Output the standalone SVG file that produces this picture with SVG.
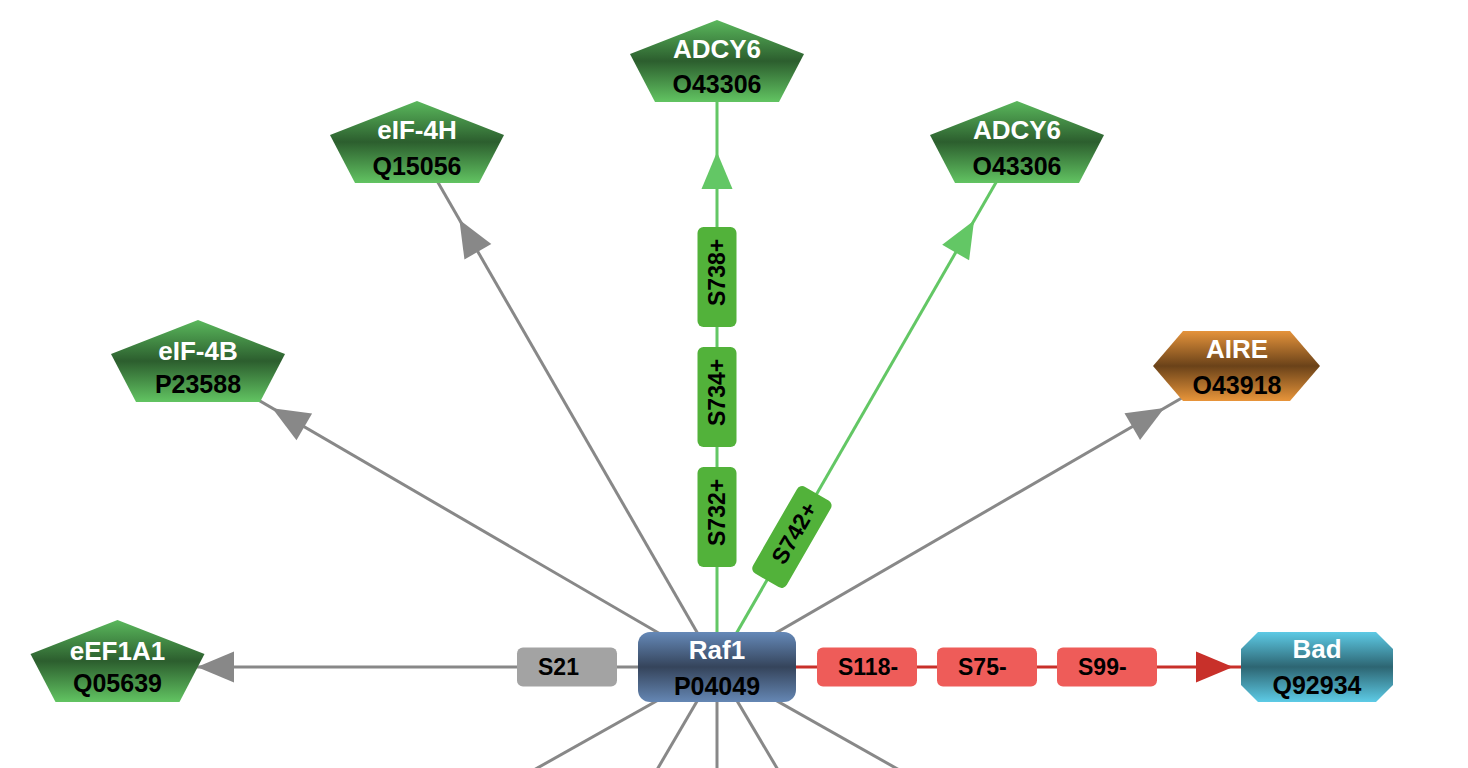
<svg xmlns="http://www.w3.org/2000/svg" xmlns:xlink="http://www.w3.org/1999/xlink" width="1468" height="768" viewBox="0 0 1468 768">
<style>
.ln{fill:none;stroke-width:3}
.gray{stroke:#888888}
.grn{stroke:#63c765}
.red{stroke:#c8302a}
.ag{fill:#888888}
.agr{fill:#63c765}
.ar{fill:#c8302a}
.nm{font-family:"Liberation Sans",Arial,sans-serif;font-weight:bold;font-size:26px;fill:#ffffff;text-anchor:middle}
.id{font-family:"Liberation Sans",Arial,sans-serif;font-weight:bold;font-size:25px;fill:#000000;text-anchor:middle}
.lt{font-family:"Liberation Sans",Arial,sans-serif;font-weight:bold;font-size:23px;fill:#000000}
.lg{fill:#a3a3a3}
.lr{fill:#ee5c59}
.lgr{fill:#52b23a}
.pg{fill:url(#gGreen)}
</style>
<defs>
<linearGradient id="gGreen" x1="0" y1="0" x2="0" y2="1">
<stop offset="0" stop-color="#5ab85c"/>
<stop offset="0.5" stop-color="#2c5e2e"/>
<stop offset="1" stop-color="#62c462"/>
</linearGradient>
<linearGradient id="gBlue" x1="0" y1="0" x2="0" y2="1">
<stop offset="0" stop-color="#6589b8"/>
<stop offset="0.5" stop-color="#35445b"/>
<stop offset="1" stop-color="#6587b4"/>
</linearGradient>
<linearGradient id="gCyan" x1="0" y1="0" x2="0" y2="1">
<stop offset="0" stop-color="#5dcae5"/>
<stop offset="0.5" stop-color="#2d6572"/>
<stop offset="1" stop-color="#5dcbe6"/>
</linearGradient>
<linearGradient id="gOrange" x1="0" y1="0" x2="0" y2="1">
<stop offset="0" stop-color="#e5933b"/>
<stop offset="0.5" stop-color="#6a4219"/>
<stop offset="1" stop-color="#e8953a"/>
</linearGradient>
<polygon id="pent" points="0,0 87,34 62,82 -62,82 -87,34"/>
<path id="arw" d="M0,0 L-37,-15.5 L-37,15.5 Z"/>
<rect id="lbl" x="-50" y="-19.5" width="100" height="39" rx="6"/>
</defs>

<g id="connectors">
<line class="ln gray" x1="717" y1="667" x2="516" y2="780"/>
<line class="ln gray" x1="717" y1="667" x2="651" y2="780"/>
<line class="ln gray" x1="717" y1="667" x2="717" y2="780"/>
<line class="ln gray" x1="717" y1="667" x2="784" y2="780"/>
<line class="ln gray" x1="717" y1="667" x2="917" y2="780"/>
<line class="ln gray" x1="717" y1="667" x2="117" y2="667"/>
<line class="ln gray" x1="717" y1="667" x2="198" y2="365"/>
<line class="ln gray" x1="717" y1="667" x2="417" y2="146"/>
<line class="ln gray" x1="717" y1="667" x2="1237" y2="366"/>
<line class="ln grn" x1="717" y1="667" x2="717" y2="65"/>
<line class="ln grn" x1="717" y1="667" x2="1017" y2="146"/>
<line class="ln red" x1="717" y1="667" x2="1317" y2="667"/>
<use href="#arw" class="agr" transform="translate(717,152) rotate(-90)"/>
<use href="#arw" class="ag" transform="translate(459.4,219.7) rotate(-119.93)"/>
<use href="#arw" class="agr" transform="translate(974.1,220.5) rotate(-60.07)"/>
<use href="#arw" class="ag" transform="translate(272.3,408.2) rotate(-149.81)"/>
<use href="#arw" class="ag" transform="translate(1164.3,408.1) rotate(-30.07)"/>
<use href="#arw" class="ag" transform="translate(197,667) rotate(180)"/>
<use href="#arw" class="ar" transform="translate(1233,667)"/>
<g id="lbl-S21" transform="translate(567,667)"><use href="#lbl" class="lg"/><text class="lt" x="-29" y="8">S21</text></g>
<g id="lbl-S118" transform="translate(867,667)"><use href="#lbl" class="lr"/><text class="lt" x="-29" y="8">S118-</text></g>
<g id="lbl-S75" transform="translate(987,667)"><use href="#lbl" class="lr"/><text class="lt" x="-29" y="8">S75-</text></g>
<g id="lbl-S99" transform="translate(1107,667)"><use href="#lbl" class="lr"/><text class="lt" x="-29" y="8">S99-</text></g>
<g id="lbl-S732" transform="translate(717,517) rotate(-90)"><use href="#lbl" class="lgr"/><text class="lt" x="-29" y="8">S732+</text></g>
<g id="lbl-S734" transform="translate(717,397) rotate(-90)"><use href="#lbl" class="lgr"/><text class="lt" x="-29" y="8">S734+</text></g>
<g id="lbl-S738" transform="translate(717,277) rotate(-90)"><use href="#lbl" class="lgr"/><text class="lt" x="-29" y="8">S738+</text></g>
<g id="lbl-S742" transform="translate(791.9,537) rotate(-60.07)"><use href="#lbl" class="lgr"/><text class="lt" x="-29" y="8">S742+</text></g>
</g>

<g id="node-ADCY6-top">
<use href="#pent" class="pg" transform="translate(717,20)"/>
<text class="nm" x="717" y="58">ADCY6</text>
<text class="id" x="717" y="93">O43306</text>
</g>
<g id="node-eIF-4H">
<use href="#pent" class="pg" transform="translate(417,101)"/>
<text class="nm" x="417" y="139">eIF-4H</text>
<text class="id" x="417" y="175">Q15056</text>
</g>
<g id="node-ADCY6-right">
<use href="#pent" class="pg" transform="translate(1017,101)"/>
<text class="nm" x="1017" y="139">ADCY6</text>
<text class="id" x="1017" y="175">O43306</text>
</g>
<g id="node-eIF-4B">
<use href="#pent" class="pg" transform="translate(198,320)"/>
<text class="nm" x="198" y="360">eIF-4B</text>
<text class="id" x="198" y="393">P23588</text>
</g>
<g id="node-eEF1A1">
<use href="#pent" class="pg" transform="translate(117.5,620)"/>
<text class="nm" x="117.5" y="660">eEF1A1</text>
<text class="id" x="117.5" y="692">Q05639</text>
</g>
<g id="node-AIRE">
<polygon fill="url(#gOrange)" points="1183,331 1290,331 1320,366 1290,401 1183,401 1153,366"/>
<text class="nm" x="1237" y="358">AIRE</text>
<text class="id" x="1237" y="394">O43918</text>
</g>
<g id="node-Raf1">
<rect x="638" y="632" width="158" height="70" rx="12" fill="url(#gBlue)"/>
<text class="nm" x="717" y="659">Raf1</text>
<text class="id" x="717" y="695">P04049</text>
</g>
<g id="node-Bad">
<polygon fill="url(#gCyan)" points="1258,632 1376,632 1393,649 1393,685 1376,702 1258,702 1241,685 1241,649"/>
<text class="nm" x="1317" y="658">Bad</text>
<text class="id" x="1317" y="694">Q92934</text>
</g>
</svg>
